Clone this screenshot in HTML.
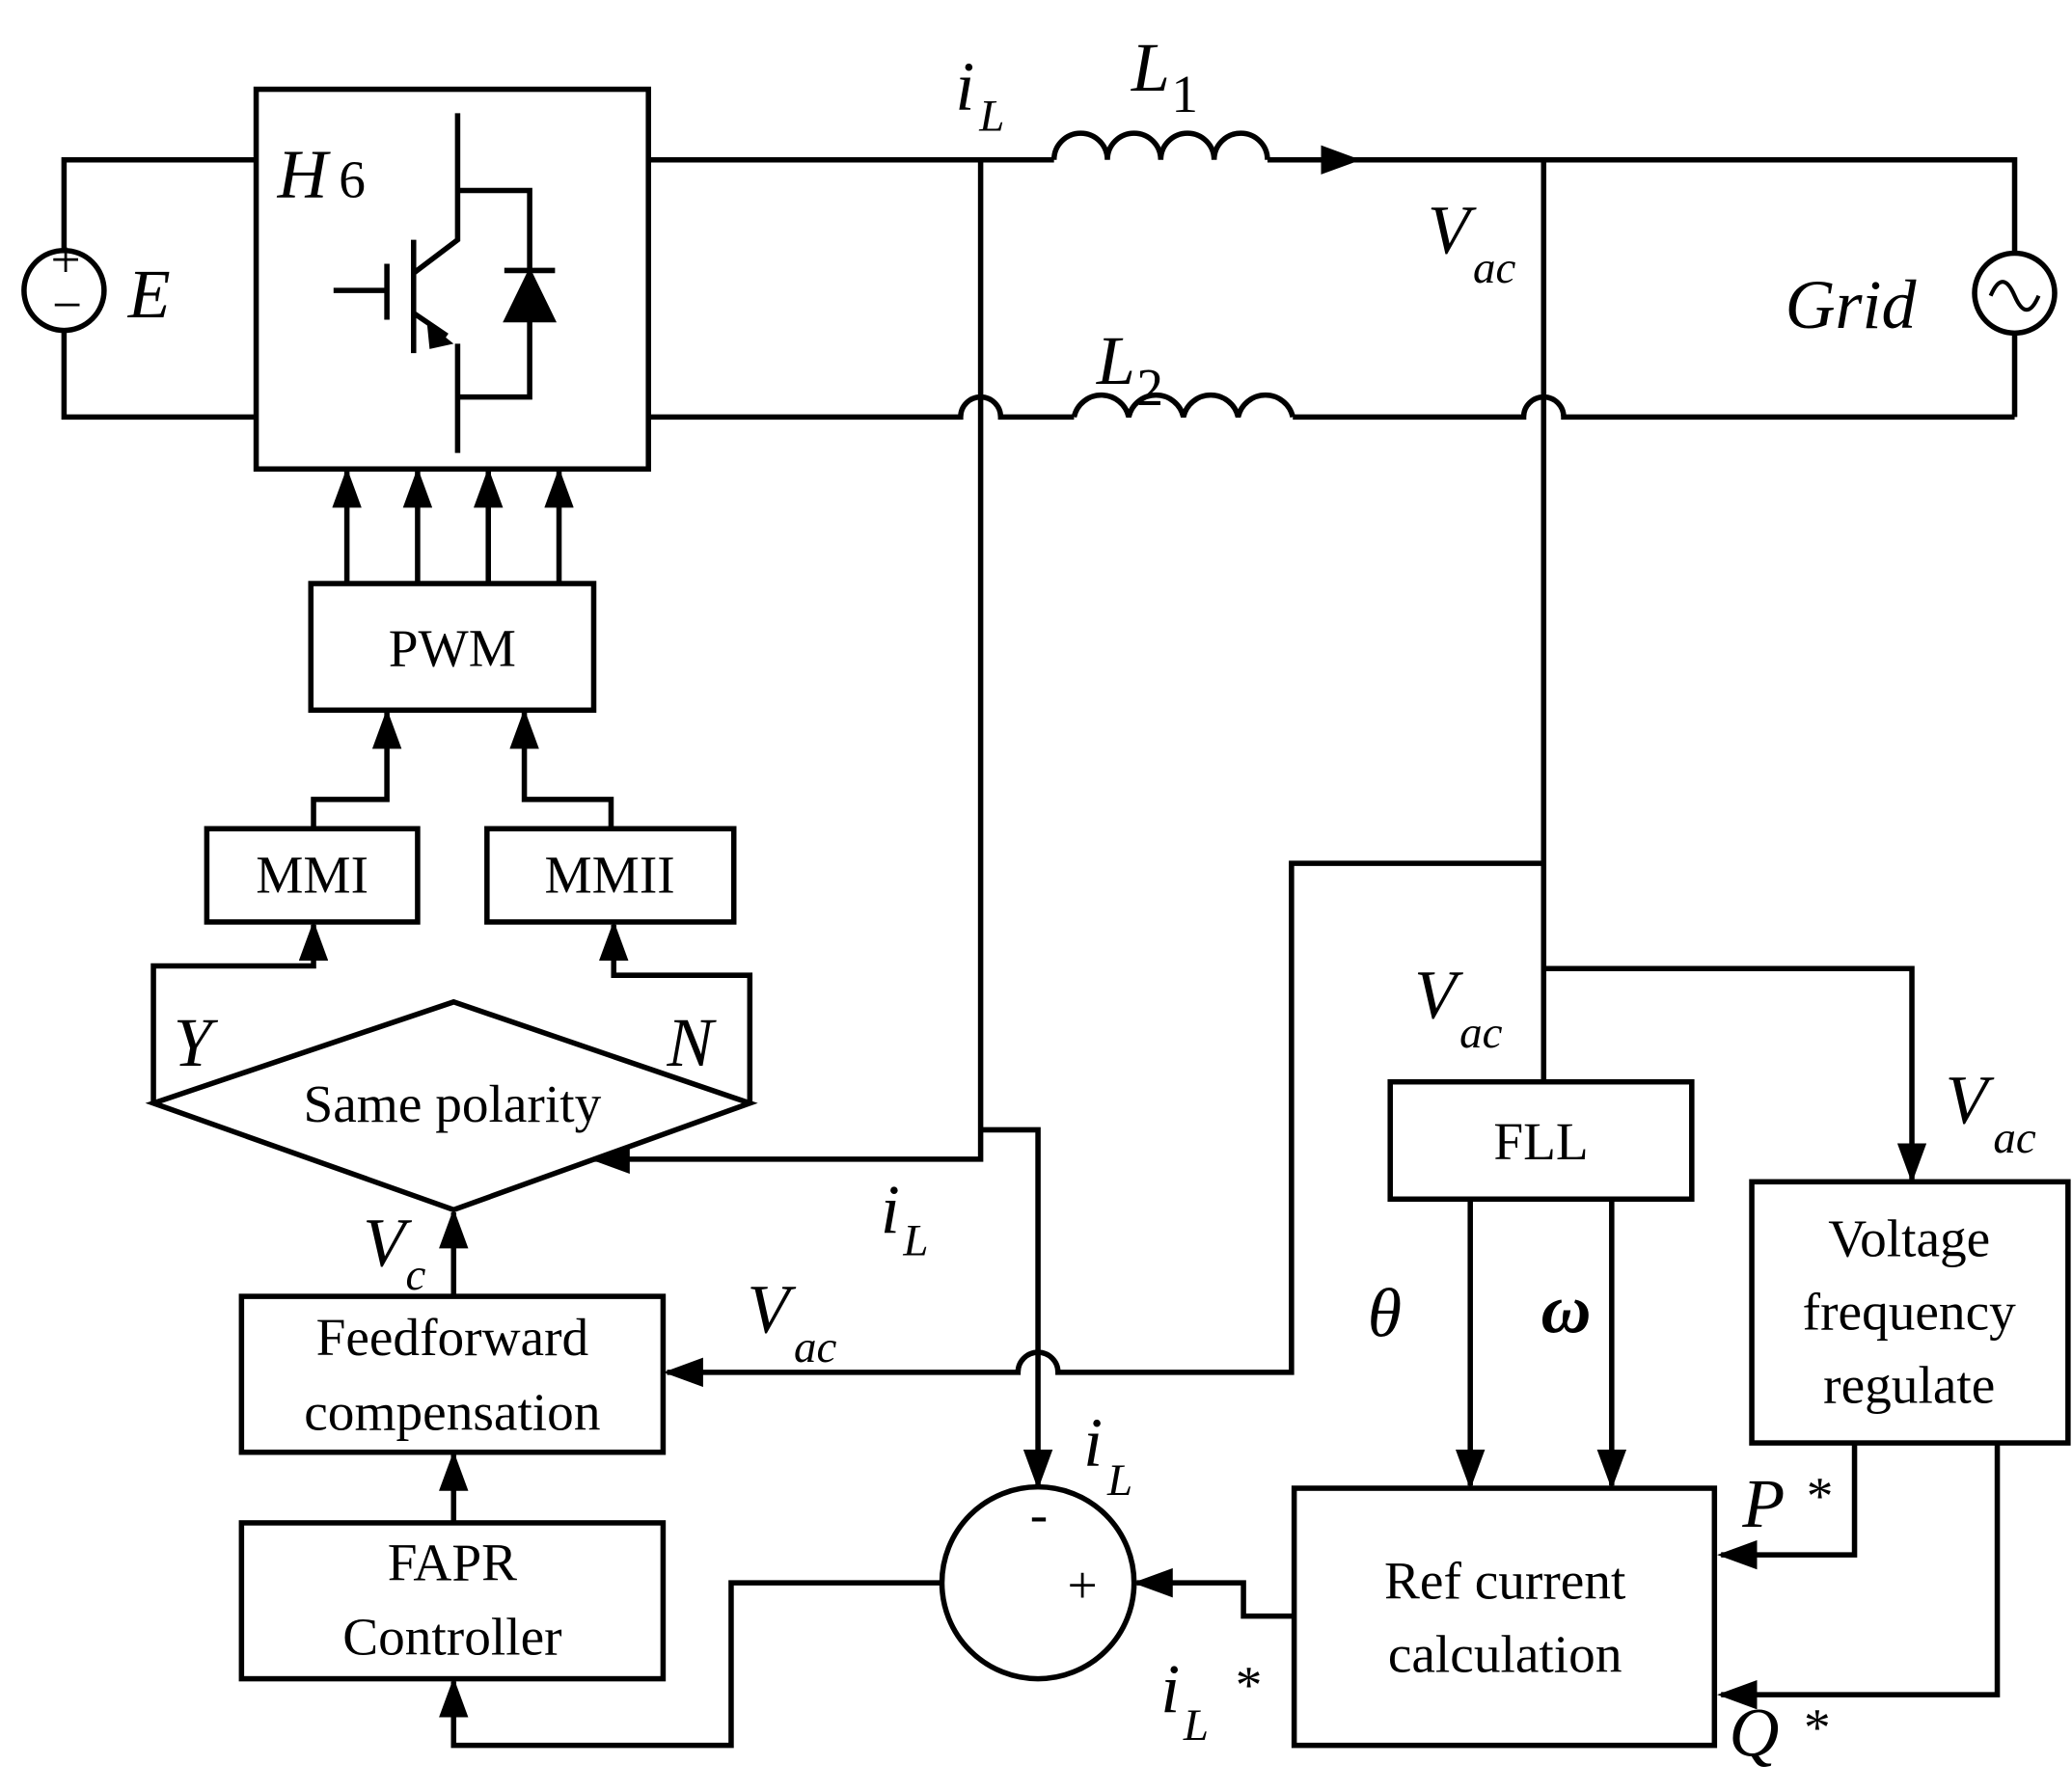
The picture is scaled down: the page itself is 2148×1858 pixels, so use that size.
<!DOCTYPE html>
<html><head><meta charset="utf-8"><style>html,body{margin:0;padding:0;background:#fff}svg{display:block}</style></head>
<body>
<svg width="2148" height="1858" viewBox="0 0 1553 1345" preserveAspectRatio="none" xmlns="http://www.w3.org/2000/svg">
<defs>
<marker id="a" viewBox="0 0 10 10" refX="9" refY="5" markerWidth="30" markerHeight="22" preserveAspectRatio="none" orient="auto" markerUnits="userSpaceOnUse"><path d="M0,0L10,5L0,10z"/></marker>
</defs>
<style>
.l{stroke:#000;stroke-width:4;fill:none}
.t{font-family:"Liberation Serif",serif;font-size:40px}
.i{font-family:"Liberation Serif",serif;font-style:italic;font-size:52px}
.s{font-family:"Liberation Serif",serif;font-style:italic;font-size:34px}
</style>
<g class="l">
<circle cx="48" cy="218" r="30"/>
<path d="M48,188V120H192M48,248V313H192"/>
<rect x="192" y="67" width="294" height="285"/>
<path d="M250,218H290M290,198V240M310,180V265M343,85V180L310,205M310,235L335,252M343,258V340M343,143H397V298H343"/>
<path d="M380,240L397,205L414,240Z" fill="#000"/><path d="M378,203H416"/>
<path d="M486,120H790"/>
<path d="M790,120a20,20 0 0 1 40,0a20,20 0 0 1 40,0a20,20 0 0 1 40,0a20,20 0 0 1 40,0"/>
<path d="M950,120H1017" marker-end="url(#a)"/>
<path d="M1015,120H1510V190M1510,250V313"/>
<circle cx="1510" cy="220" r="30"/>
<path d="M1492,222c6,-14 12,-14 18,0s12,14 18,0" stroke-width="3"/>
<path d="M486,313H720a15,15 0 0 1 30,0H805"/>
<path d="M805,313a21,21 0 0 1 41,0a21,21 0 0 1 41,0a21,21 0 0 1 41,0a21,21 0 0 1 41,0"/>
<path d="M969,313H1142a15,15 0 0 1 30,0H1510"/>
<path d="M735,120V870H445" marker-end="url(#a)"/>
<path d="M735,848H778V1115" marker-end="url(#a)"/>
<path d="M1157,120V812"/>
<path d="M1157,648H968V1030H793a15,15 0 0 0 -30,0H500" marker-end="url(#a)"/>
<path d="M1157,727H1433V885" marker-end="url(#a)"/>
<rect x="1042" y="812" width="226" height="88"/>
<path d="M1102,900V1115" marker-end="url(#a)"/>
<path d="M1208,900V1115" marker-end="url(#a)"/>
<rect x="1313" y="887" width="237" height="196"/>
<path d="M1390,1083V1167H1290" marker-end="url(#a)"/>
<path d="M1497,1083V1272H1290" marker-end="url(#a)"/>
<rect x="970" y="1117" width="315" height="193"/>
<path d="M970,1213H932V1188H852" marker-end="url(#a)"/>
<circle cx="778" cy="1188" r="72"/>
<path d="M706,1188H548V1310H340V1262" marker-end="url(#a)"/>
<rect x="181" y="1143" width="316" height="117"/>
<rect x="181" y="973" width="316" height="117"/>
<path d="M340,1143V1092" marker-end="url(#a)"/>
<path d="M340,973V910" marker-end="url(#a)"/>
<path d="M115,828L340,752L562,828L340,908Z"/>
<path d="M115,828V725H235V694" marker-end="url(#a)"/>
<path d="M562,828V732H460V694" marker-end="url(#a)"/>
<rect x="155" y="622" width="158" height="70"/>
<rect x="365" y="622" width="185" height="70"/>
<path d="M235,622V600H290V535" marker-end="url(#a)"/>
<path d="M458,622V600H393V535" marker-end="url(#a)"/>
<rect x="233" y="438" width="212" height="95"/>
<path d="M260,438V354" marker-end="url(#a)"/>
<path d="M313,438V354" marker-end="url(#a)"/>
<path d="M366,438V354" marker-end="url(#a)"/>
<path d="M419,438V354" marker-end="url(#a)"/>
</g>
<path d="M320,242L340,258L322,262Z"/>
<g>
<text class="t" x="38" y="208" font-size="26">+</text>
<text class="t" x="39" y="242" font-size="30">−</text>
<text class="i" x="96" y="238">E</text>
<text class="i" x="208" y="148">H</text><text class="t" x="254" y="148" font-size="52">6</text>
<text class="i" x="716" y="82">i</text><text class="s" x="734" y="98">L</text>
<text class="i" x="848" y="68">L</text><text class="t" x="878" y="84" font-size="34">1</text>
<text class="i" x="822" y="288">L</text><text class="t" x="852" y="304" font-size="34">2</text>
<text class="i" x="1070" y="190">V</text><text class="s" x="1104" y="212">ac</text>
<text class="i" x="1338" y="246">Grid</text>
<text class="t" x="339" y="500" text-anchor="middle">PWM</text>
<text class="t" x="234" y="670" text-anchor="middle">MMI</text>
<text class="t" x="457" y="670" text-anchor="middle">MMII</text>
<text class="i" x="130" y="800">Y</text>
<text class="i" x="500" y="800">N</text>
<text class="t" x="339" y="842" text-anchor="middle">Same polarity</text>
<text class="i" x="272" y="950">V</text><text class="s" x="304" y="968">c</text>
<text class="t" x="339" y="1017" text-anchor="middle">Feedforward</text>
<text class="t" x="339" y="1073" text-anchor="middle">compensation</text>
<text class="t" x="339" y="1186" text-anchor="middle">FAPR</text>
<text class="t" x="339" y="1242" text-anchor="middle">Controller</text>
<text class="i" x="660" y="925">i</text><text class="s" x="677" y="942">L</text>
<text class="i" x="560" y="1000">V</text><text class="s" x="595" y="1022">ac</text>
<text class="i" x="1060" y="764">V</text><text class="s" x="1094" y="786">ac</text>
<text class="t" x="1155" y="870" text-anchor="middle">FLL</text>
<text class="i" x="1458" y="843">V</text><text class="s" x="1494" y="865">ac</text>
<text class="t" x="1431" y="943" text-anchor="middle">Voltage</text>
<text class="t" x="1431" y="998" text-anchor="middle">frequency</text>
<text class="t" x="1431" y="1053" text-anchor="middle">regulate</text>
<text class="i" x="1025" y="1003">θ</text>
<text class="i" x="1155" y="1000" font-weight="bold">ω</text>
<text class="i" x="812" y="1100">i</text><text class="s" x="830" y="1122">L</text>
<text class="t" x="772" y="1150" font-size="44">-</text>
<text class="t" x="800" y="1203" font-size="40">+</text>
<text class="t" x="1128" y="1200" text-anchor="middle">Ref current</text>
<text class="t" x="1128" y="1255" text-anchor="middle">calculation</text>
<text class="i" x="870" y="1285">i</text><text class="s" x="887" y="1306">L</text><text class="t" x="926" y="1278" font-size="44">*</text>
<text class="i" x="1306" y="1146">P</text><text class="t" x="1354" y="1136" font-size="44">*</text>
<text class="i" x="1296" y="1318">Q</text><text class="t" x="1352" y="1310" font-size="44">*</text>
</g>
</svg>
</body></html>
